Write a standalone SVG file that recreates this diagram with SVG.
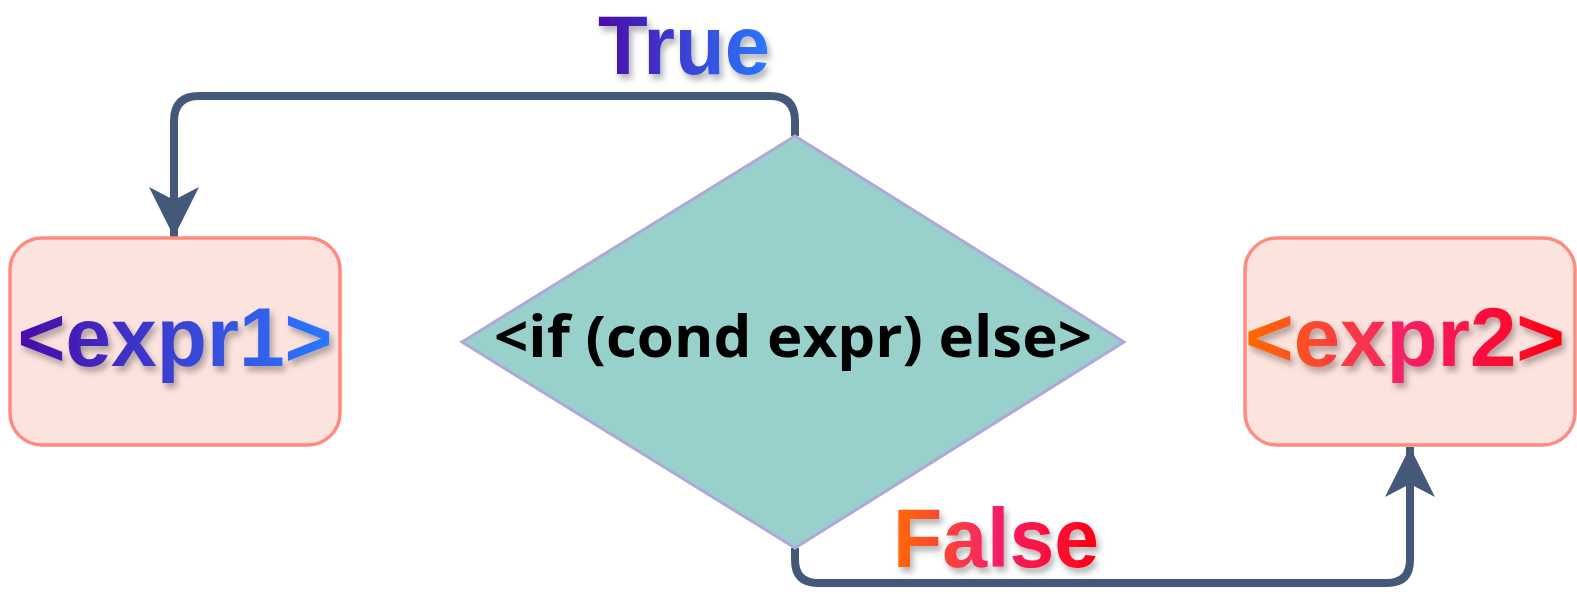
<svg xmlns="http://www.w3.org/2000/svg" width="1577" height="594" viewBox="0 0 1577 594">
<defs>
<style>
.box{fill:#fce3de;stroke:#ff8a80;stroke-width:3.5}
.lbl{font-family:"Liberation Sans",Arial,sans-serif;font-weight:700;font-size:84px}
.conn{fill:none;stroke:#44587a;stroke-width:8;stroke-linejoin:round}
.cond{font-family:"Open Sans","Liberation Sans",sans-serif;font-weight:700;font-size:58px;fill:#000}
</style>
<linearGradient id="gBlue" x1="0" y1="0" x2="1" y2="0">
<stop offset="0" stop-color="#4a0aa8"/>
<stop offset="1" stop-color="#2979ff"/>
</linearGradient>
<linearGradient id="gRed" x1="0" y1="0" x2="1" y2="0">
<stop offset="0" stop-color="#ff6a00"/>
<stop offset="0.5" stop-color="#f5206a"/>
<stop offset="1" stop-color="#ff0010"/>
</linearGradient>
<filter id="sh" x="-10%" y="-20%" width="130%" height="150%">
<feDropShadow dx="3" dy="5" stdDeviation="3" flood-color="#000" flood-opacity="0.3"/>
</filter>
<marker id="arr" viewBox="0 0 50 50" refX="50" refY="25" markerWidth="50" markerHeight="50" markerUnits="userSpaceOnUse" orient="auto">
<path d="M0,0 L50,25 L0,50 L13,25 Z" fill="#44587a"/>
</marker>
</defs>
<g id="connectors">
<path class="conn" d="M795,136 V121 Q795,96 770,96 H199 Q174,96 174,121 V237" marker-end="url(#arr)"/>
<path class="conn" d="M795,548 V560 Q795,583 818,583 H1387 Q1410,583 1410,560 V447" marker-end="url(#arr)"/>
</g>
<g id="expr1">
<rect class="box" x="10" y="238" width="330" height="207" rx="32"/>
<text class="lbl" x="175" y="366" text-anchor="middle" fill="url(#gBlue)" filter="url(#sh)" textLength="315" lengthAdjust="spacingAndGlyphs">&lt;expr1&gt;</text>
</g>
<g id="cond">
<polygon points="795,136 1124,342 795,548 462,342" fill="#98d0cc" stroke="#b0a8d8" stroke-width="3"/>
<text class="cond" x="793" y="357" text-anchor="middle" textLength="598" lengthAdjust="spacingAndGlyphs">&lt;if (cond expr) else&gt;</text>
</g>
<g id="expr2">
<rect class="box" x="1245" y="238" width="330" height="207" rx="32"/>
<text class="lbl" x="1405" y="366" text-anchor="middle" fill="url(#gRed)" filter="url(#sh)" textLength="320" lengthAdjust="spacingAndGlyphs">&lt;expr2&gt;</text>
</g>
<g id="labels">
<text class="lbl" x="684" y="74" text-anchor="middle" fill="url(#gBlue)" filter="url(#sh)" font-size="81" textLength="172" lengthAdjust="spacingAndGlyphs">True</text>
<text class="lbl" x="996" y="567" text-anchor="middle" fill="url(#gRed)" filter="url(#sh)" textLength="206" lengthAdjust="spacingAndGlyphs">False</text>
</g>
</svg>
